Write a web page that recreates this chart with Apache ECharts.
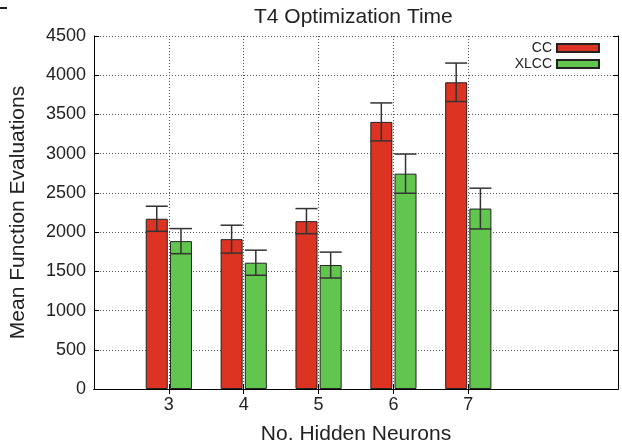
<!DOCTYPE html>
<html>
<head>
<meta charset="utf-8">
<script src="https://cdn.jsdelivr.net/npm/echarts@6/dist/echarts.min.js"></script>
<style>
html,body{margin:0;padding:0;background:#fff;}
#chart{width:622px;height:448px;}
</style>
</head>
<body>
<div id="chart"></div>
<script>
// ---- data ----
const neurons = ['3', '4', '5', '6', '7'];
const ccMean = [2170, 1910, 2140, 3405, 3910];
const ccErr = [160, 178, 160, 242, 245];
const xlccMean = [1885, 1610, 1580, 2745, 2300];
const xlccErr = [160, 160, 165, 250, 260];
const yTicks = [0, 500, 1000, 1500, 2000, 2500, 3000, 3500, 4000, 4500];

// ---- build ----
const FONT = '"Liberation Sans", Arial, sans-serif';
const TXT = '#222';
const categories = [''].concat(neurons, ['', '']);
const pad = arr => [null].concat(arr, [null, null]);
const BAR_W = 22;
const GAP = 0.1;
const OFF = (BAR_W + BAR_W * GAP) / 2;
const showTick = (i) => i >= 1 && i <= neurons.length;

function errData(mean, err) {
  return mean.map((m, i) => [i + 1, m - err[i], m + err[i]]);
}
function errRender(offset) {
  return function (params, api) {
    const idx = api.value(0);
    const lo = api.coord([idx, api.value(1)]);
    const hi = api.coord([idx, api.value(2)]);
    const x = lo[0] + offset;
    const half = BAR_W / 2;
    const style = { stroke: '#333', lineWidth: 1.5 };
    return {
      type: 'group',
      children: [
        { type: 'line', shape: { x1: x, y1: lo[1], x2: x, y2: hi[1] }, style },
        { type: 'line', shape: { x1: x - half, y1: lo[1], x2: x + half, y2: lo[1] }, style },
        { type: 'line', shape: { x1: x - half, y1: hi[1], x2: x + half, y2: hi[1] }, style }
      ]
    };
  };
}

const chart = echarts.init(document.getElementById('chart'));
chart.setOption({
  backgroundColor: '#fff',
  animation: false,
  textStyle: { fontFamily: FONT },
  title: {
    text: 'T4 Optimization Time',
    left: 254, top: 7, padding: 0,
    textStyle: { fontFamily: FONT, fontSize: 21, fontWeight: 'normal', color: TXT }
  },
  legend: {
    orient: 'vertical', right: 22, top: 41, align: 'right', padding: 0,
    itemWidth: 42, itemHeight: 8, itemGap: 2,
    textStyle: { fontFamily: FONT, fontSize: 14, color: TXT },
    data: [{ name: 'CC', icon: 'rect' }, { name: 'XLCC', icon: 'rect' }]
  },
  grid: { left: 94, right: 4, top: 36, bottom: 59, containLabel: false, outerBoundsMode: 'none' },
  graphic: [{ type: 'rect', shape: { x: 0, y: 7, width: 7, height: 2 }, style: { fill: '#222' } }],
  xAxis: [{
    type: 'category', data: categories, boundaryGap: false,
    name: 'No. Hidden Neurons', nameLocation: 'middle', nameGap: 35,
    nameTextStyle: { fontFamily: FONT, fontSize: 21, color: TXT },
    axisLine: { lineStyle: { color: '#000', width: 1 } },
    axisTick: { inside: true, length: 5, interval: showTick, lineStyle: { color: '#000' } },
    axisLabel: { interval: showTick, fontSize: 18, color: TXT, margin: 7, fontFamily: FONT },
    splitLine: { show: true, interval: showTick, lineStyle: { color: '#555', type: [1, 2], width: 1 } }
  }, {
    type: 'category', data: categories, boundaryGap: false, position: 'top',
    axisLine: { lineStyle: { color: '#000', width: 1 } },
    axisTick: { inside: true, length: 5, interval: showTick, lineStyle: { color: '#000' } },
    axisLabel: { show: false }, splitLine: { show: false }
  }],
  yAxis: [{
    type: 'value', min: yTicks[0], max: yTicks[yTicks.length - 1], interval: yTicks[1] - yTicks[0],
    name: 'Mean Function Evaluations', nameLocation: 'middle', nameGap: 65,
    nameTextStyle: { fontFamily: FONT, fontSize: 21, color: TXT },
    axisLine: { show: true, lineStyle: { color: '#000', width: 1 } },
    axisTick: { show: true, inside: true, length: 5, lineStyle: { color: '#000' } },
    axisLabel: { fontSize: 18, color: TXT, margin: 8, fontFamily: FONT, formatter: v => String(v) },
    splitLine: { show: true, lineStyle: { color: '#555', type: [1, 2], width: 1 } }
  }, {
    type: 'value', position: 'right', min: yTicks[0], max: yTicks[yTicks.length - 1], interval: yTicks[1] - yTicks[0],
    axisLine: { show: true, lineStyle: { color: '#000', width: 1 } },
    axisTick: { show: true, inside: true, length: 5, lineStyle: { color: '#000' } },
    axisLabel: { show: false }, splitLine: { show: false }
  }],
  series: [{
    name: 'CC', type: 'bar', data: pad(ccMean), barWidth: BAR_W, barGap: (GAP * 100) + '%',
    itemStyle: { color: '#dd3322', borderColor: '#222', borderWidth: 1 }
  }, {
    name: 'XLCC', type: 'bar', data: pad(xlccMean), barWidth: BAR_W, barGap: (GAP * 100) + '%',
    itemStyle: { color: '#62c64e', borderColor: '#222', borderWidth: 1 }
  }, {
    name: 'CC err', type: 'custom', data: errData(ccMean, ccErr),
    encode: { x: 0, y: [1, 2] }, renderItem: errRender(-OFF), z: 5, silent: true
  }, {
    name: 'XLCC err', type: 'custom', data: errData(xlccMean, xlccErr),
    encode: { x: 0, y: [1, 2] }, renderItem: errRender(OFF), z: 5, silent: true
  }]
});
</script>
</body>
</html>
